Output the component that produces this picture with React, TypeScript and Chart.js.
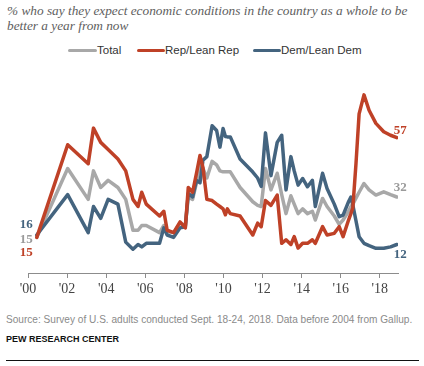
import React, { useEffect, useRef } from "react";
import { Chart, registerables } from "chart.js";

Chart.register(...registerables);

// Survey dates (decimal years)
const dates = [
  2000.45, 2002.03, 2003.08, 2003.35, 2003.72, 2004.1, 2004.6, 2005.0, 2005.37, 2005.63,
  2005.82, 2006.05, 2006.73, 2006.95, 2007.12, 2007.45, 2007.78, 2008.05, 2008.2, 2008.42,
  2008.62, 2008.8, 2008.95, 2009.15, 2009.42, 2009.65, 2009.82, 2009.98, 2010.1, 2010.2,
  2010.35, 2010.85, 2011.5, 2011.75, 2011.93, 2012.15, 2012.43, 2012.75, 2012.98, 2013.2,
  2013.45, 2013.62, 2013.82, 2014.05, 2014.3, 2014.55, 2014.7, 2015.07, 2015.3, 2015.67,
  2015.92, 2016.12, 2016.4, 2016.52, 2016.62, 2016.78, 2016.94, 2017.19, 2017.45, 2017.8,
  2018.2, 2018.55, 2018.87,
];

const total = [
  15, 44, 31, 43, 36, 39, 36, 31, 18, 18,
  20, 20, 17, 20, 17.5, 17, 21, 20, 32, 31,
  38, 47, 44, 40, 47, 45.5, 43, 42.6, 42.6, 42.6,
  42.6, 36, 30, 28.5, 28, 44, 35, 42, 33, 25,
  32.5, 29, 25, 27, 25, 26, 22.3, 31.4, 28, 24,
  20.5, 22.3, 26, 28, 29, 31.5, 34, 37.7, 35, 32.8,
  34.2, 33, 32,
];

const rep = [
  15, 54, 46, 61, 55, 52, 48, 43, 31, 28,
  34, 29, 24, 26, 18, 17, 21.5, 19, 36, 34,
  42, 49.5, 44.5, 31, 30.5, 29, 28, 27, 24.5, 27,
  25, 24, 16, 21, 19.5, 30.5, 28.5, 32.8, 12.5, 14,
  12, 15.3, 10.5, 12.5, 12.5, 14, 12.5, 19.5, 16, 16.7,
  19.5, 15.3, 22.3, 25, 27.5, 46, 67, 75, 68.5, 63,
  59.5, 58, 57,
];

const dem = [
  16, 33, 17, 28, 23, 31, 29, 13, 10, 12,
  11, 12.5, 12.5, 19, 16, 15, 19, 19.5, 33.5, 32,
  39, 38, 47.5, 49, 62, 60, 53, 60.8, 57.5, 57.3,
  57.3, 48, 42.5, 40, 36.5, 59, 41, 55, 58, 35,
  49, 43, 37, 39.8, 36.3, 39, 28, 42, 35.6, 29,
  23.7, 24.4, 30, 32, 28.6, 22, 15.3, 12.5, 11.5, 10.4,
  10.4, 11, 12,
];

const tickYears = [2000, 2002, 2004, 2006, 2008, 2010, 2012, 2014, 2016, 2018];
const tickLabels = ["'00", "'02", "'04", "'06", "'08", "'10", "'12", "'14", "'16", "'18"];
const seriesNames = ["Total", "Rep/Lean Rep", "Dem/Lean Dem"];

const GRAY = "#A8A8A8";
const RED = "#BF4127";
const BLUE = "#44647F";

const toPoints = (vals: number[]) => vals.map((v, i) => ({ x: dates[i], y: v }));

export default function App() {
  const ref = useRef<HTMLCanvasElement>(null);

  useEffect(() => {
    if (!ref.current) return;
    const labelPlugin = {
      id: "lineLabels",
      afterDatasetsDraw(chart: any) {
        const ctx = chart.ctx;
        const xs = chart.scales.x;
        const ys = chart.scales.y;
        const specs = [
          { vals: dem, color: BLUE, sDy: -10, eDy: 10 },
          { vals: total, color: "#9A9A9A", sDy: 2, eDy: -9 },
          { vals: rep, color: RED, sDy: 15, eDy: -7 },
        ];
        ctx.save();
        ctx.textBaseline = "middle";
        specs.forEach((s) => {
          ctx.fillStyle = s.color;
          ctx.font = `bold 13px "Liberation Serif", serif`;
          const x0 = xs.getPixelForValue(dates[0]);
          const y0 = ys.getPixelForValue(s.vals[0]);
          ctx.textAlign = "right";
          ctx.fillText(String(Math.round(s.vals[0])), x0 - 4, y0 + s.sDy);
          const n = dates.length - 1;
          const x1 = xs.getPixelForValue(dates[n]);
          const y1 = ys.getPixelForValue(s.vals[n]);
          ctx.textAlign = "left";
          ctx.fillText(String(Math.round(s.vals[n])), x1 - 3, y1 + s.eDy);
        });
        ctx.restore();
      },
    };

    const mk = (label: string, vals: number[], color: string, order: number) => ({
      label,
      data: toPoints(vals),
      borderColor: color,
      backgroundColor: color,
      borderWidth: 3.5,
      pointRadius: 0,
      tension: 0,
      borderJoinStyle: "round" as const,
      borderCapStyle: "round" as const,
      order,
    });

    const chart = new Chart(ref.current, {
      type: "line",
      data: {
        datasets: [
          mk(seriesNames[0], total, GRAY, 3),
          mk(seriesNames[1], rep, RED, 1),
          mk(seriesNames[2], dem, BLUE, 2),
        ],
      },
      options: {
        animation: false,
        responsive: false,
        layout: { padding: { left: 28, right: 26, top: 83, bottom: 10 } },
        plugins: { legend: { display: false }, tooltip: { enabled: false }, title: { display: false } },
        scales: {
          x: {
            type: "linear",
            min: 2000,
            max: 2018.93,
            afterBuildTicks: (scale: any) => {
              scale.ticks = tickYears.map((v) => ({ value: v }));
            },
            afterFit: (scale: any) => {
              scale.height = 22;
            },
            ticks: {
              autoSkip: false,
              maxRotation: 0,
              padding: 3,
              color: "#444",
              font: { family: '"Liberation Serif", serif', size: 14 },
              callback: (v: any) => {
                const i = tickYears.indexOf(Number(v));
                return i >= 0 ? tickLabels[i] : "";
              },
            },
            grid: { display: true, drawOnChartArea: false, drawTicks: true, tickLength: 5, color: "#8C8C8C" },
            border: { display: true, color: "#8C8C8C", width: 1 },
          },
          y: { display: false, min: 0, max: 80 },
        },
      },
      plugins: [labelPlugin],
    });
    return () => chart.destroy();
  }, []);

  const legendItems = [
    { name: seriesNames[0], color: GRAY, x1: 68, x2: 97 },
    { name: seriesNames[1], color: RED, x1: 137, x2: 165 },
    { name: seriesNames[2], color: BLUE, x1: 253, x2: 281 },
  ];

  return (
    <div style={{ position: "absolute", left: 0, top: 0, width: 424, height: 366, background: "#fff", overflow: "hidden" }}>
      <div
        style={{
          position: "absolute",
          left: 7,
          top: 3,
          fontFamily: '"Liberation Serif", serif',
          fontStyle: "italic",
          fontSize: 13.3,
          lineHeight: "15px",
          color: "#5E5E5E",
          whiteSpace: "nowrap",
        }}
      >
        % who say they expect economic conditions in the country as a whole to be
        <br />
        better a year from now
      </div>
      {legendItems.map((it) => (
        <React.Fragment key={it.name}>
          <div
            style={{
              position: "absolute",
              left: it.x1,
              top: 48.5,
              width: it.x2 - it.x1,
              height: 3.5,
              borderRadius: 2,
              background: it.color,
            }}
          />
          <div
            style={{
              position: "absolute",
              left: it.x2,
              top: 43,
              fontFamily: '"Liberation Sans", Arial, sans-serif',
              fontSize: 11.5,
              lineHeight: "14px",
              color: "#333",
              whiteSpace: "nowrap",
            }}
          >
            {it.name}
          </div>
        </React.Fragment>
      ))}
      <canvas ref={ref} width={424} height={305} style={{ position: "absolute", left: 0, top: 0, display: "block" }} />
      <div
        style={{
          position: "absolute",
          left: 6,
          top: 314,
          fontFamily: '"Liberation Sans", Arial, sans-serif',
          fontSize: 10.1,
          lineHeight: "12px",
          color: "#8A8A8A",
          whiteSpace: "nowrap",
        }}
      >
        Source: Survey of U.S. adults conducted Sept. 18-24, 2018. Data before 2004 from Gallup.
      </div>
      <div
        style={{
          position: "absolute",
          left: 6,
          top: 333,
          fontFamily: '"Liberation Sans", Arial, sans-serif',
          fontSize: 9,
          fontWeight: "bold",
          lineHeight: "12px",
          color: "#111",
          whiteSpace: "nowrap",
        }}
      >
        PEW RESEARCH CENTER
      </div>
      <div style={{ position: "absolute", left: 6, top: 360, width: 413, height: 1.3, background: "#111" }} />
    </div>
  );
}
